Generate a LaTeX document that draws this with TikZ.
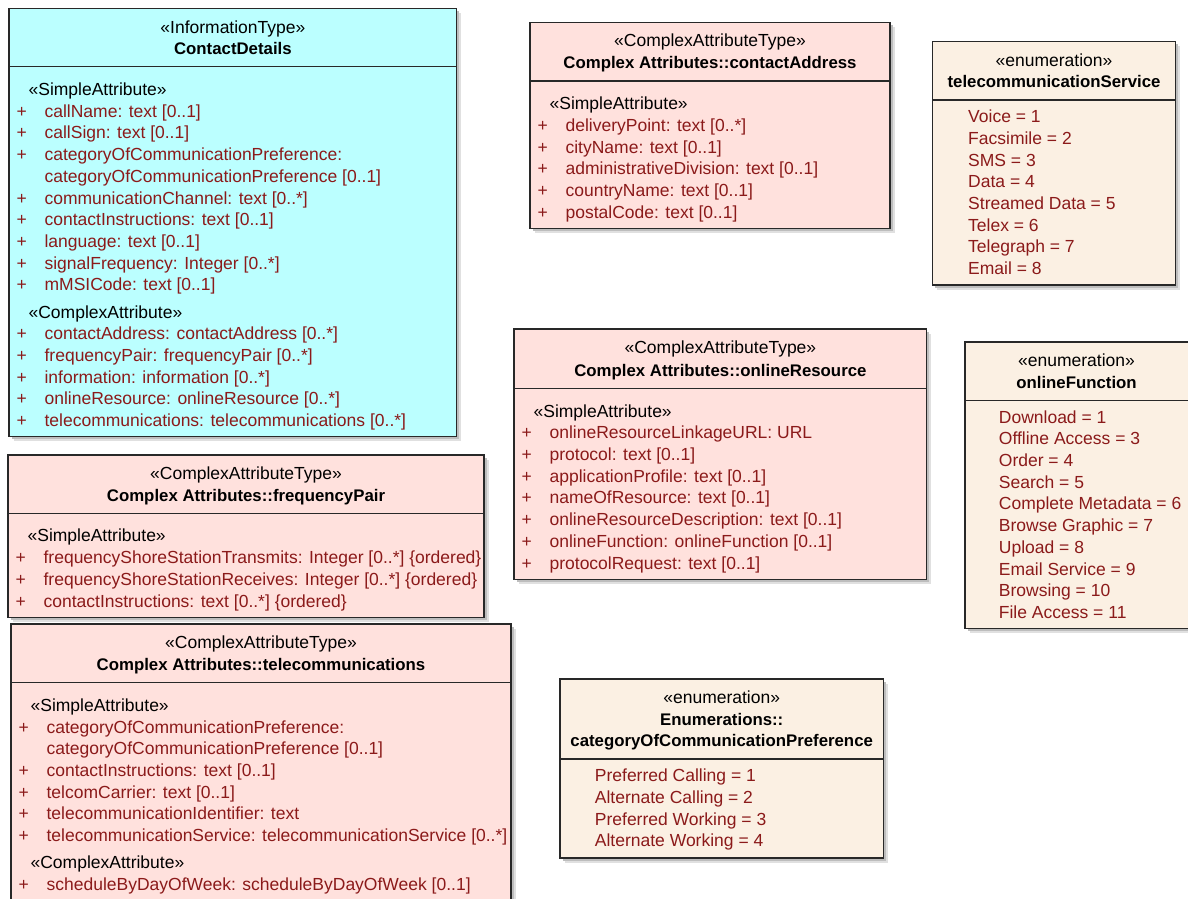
\documentclass[tikz,border=0pt]{standalone}
\usepackage{fontspec}
\setmainfont{Liberation Sans}
\usepackage{array}
\usepackage{tikz}
\usetikzlibrary{positioning}

\definecolor{infocyan}{RGB}{187,255,255}
\definecolor{typepink}{RGB}{255,225,221}
\definecolor{enumbeige}{RGB}{251,240,227}
\definecolor{attrred}{RGB}{139,26,26}
\definecolor{edgegray}{RGB}{40,40,40}

\newcommand{\attrfont}{\fontsize{17.5}{21.7}\selectfont}
\newcommand{\namefont}{\fontsize{16.8}{21.7}\selectfont\bfseries}
\newcommand{\stereo}[1]{\multicolumn{2}{@{\hspace{12pt}}l@{}}{\color{black}«#1»}}

\begin{document}
\begin{tikzpicture}[x=1pt,y=-1pt]%
    \clip (0,0) rectangle (1188,899); %%
    \tikzstyle{boxshade}=[fill=black!12]; %%
    \tikzstyle{boxshadein}=[fill=black!26]; %%
    \tikzstyle{boxedge}=[draw=edgegray,line width=1.2pt]; %%
    \tikzstyle{stereotype}=[anchor=base,inner sep=0pt,font=\attrfont]; %%
    \tikzstyle{classname}=[anchor=base,inner sep=0pt,font=\namefont]; %%
    \tikzstyle{attrlist}=[anchor=base west,inner sep=0pt,font=\attrfont,text=attrred]; %%
    \fill[white] (0,0) rectangle (1188,899); %%

    % ContactDetails
    \fill[boxshade] (13.5,12.8) rectangle (461.2,441.2); %%
    \fill[boxshadein] (11.5,10.8) rectangle (459.2,439.2); %%
    \draw[boxedge,fill=infocyan] (9,8.3) rectangle (456.7,436.7); %%
    \draw[boxedge] (9,66.7) -- (456.7,66.7); %%
    \node[stereotype] (cdkind) at (232.9,33.3) {«InformationType»}; %%
    \node[classname] (cdname) at (232.9,55) {ContactDetails}; %%
    \node[attrlist] (cdattrs) at (16.4,95.5) {\begin{tabular}[t]{@{}p{28pt}@{}l@{}}
        \stereo{SimpleAttribute}\\
        + & callName: text [0..1]\\
        + & callSign: text [0..1]\\
        + & categoryOfCommunicationPreference:\\
          & categoryOfCommunicationPreference [0..1]\\
        + & communicationChannel: text [0..*]\\
        + & contactInstructions: text [0..1]\\
        + & language: text [0..1]\\
        + & signalFrequency: Integer [0..*]\\
        + & mMSICode: text [0..1]\\[5.5pt]
        \stereo{ComplexAttribute}\\
        + & contactAddress: contactAddress [0..*]\\
        + & frequencyPair: frequencyPair [0..*]\\
        + & information: information [0..*]\\
        + & onlineResource: onlineResource [0..*]\\
        + & telecommunications: telecommunications [0..*]
    \end{tabular}}; %%

    % frequencyPair
    \fill[boxshade] (12.5,459.5) rectangle (488.5,621.8); %%
    \fill[boxshadein] (10.5,457.5) rectangle (486.5,619.8); %%
    \draw[boxedge,fill=typepink] (8,455) rectangle (484,617.3); %%
    \draw[boxedge] (8,513.3) -- (484,513.3); %%
    \node[stereotype] (fpkind) at (246,479.5) {«ComplexAttributeType»}; %%
    \node[classname] (fpname) at (246,501.5) {Complex Attributes::frequencyPair}; %%
    \node[attrlist] (fpattrs) at (15.4,541.9) {\begin{tabular}[t]{@{}p{28pt}@{}l@{}}
        \stereo{SimpleAttribute}\\
        + & frequencyShoreStationTransmits: Integer [0..*] \{ordered\}\\
        + & frequencyShoreStationReceives: Integer [0..*] \{ordered\}\\
        + & contactInstructions: text [0..*] \{ordered\}
    \end{tabular}}; %%

    % telecommunications
    \fill[boxshade] (15.5,628.5) rectangle (515.5,915); %%
    \fill[boxshadein] (13.5,626.5) rectangle (513.5,915); %%
    \draw[boxedge,fill=typepink] (11,624) rectangle (511,910); %%
    \draw[boxedge] (11,682.7) -- (511,682.7); %%
    \node[stereotype] (tckind) at (261,648.5) {«ComplexAttributeType»}; %%
    \node[classname] (tcname) at (261,670.4) {Complex Attributes::telecommunications}; %%
    \node[attrlist] (tcattrs) at (18.4,711.3) {\begin{tabular}[t]{@{}p{28pt}@{}l@{}}
        \stereo{SimpleAttribute}\\
        + & categoryOfCommunicationPreference:\\
          & categoryOfCommunicationPreference [0..1]\\
        + & contactInstructions: text [0..1]\\
        + & telcomCarrier: text [0..1]\\
        + & telecommunicationIdentifier: text\\
        + & telecommunicationService: telecommunicationService [0..*]\\[5.5pt]
        \stereo{ComplexAttribute}\\
        + & scheduleByDayOfWeek: scheduleByDayOfWeek [0..1]
    \end{tabular}}; %%

    % contactAddress
    \fill[boxshade] (534.5,26.8) rectangle (894.5,232.8); %%
    \fill[boxshadein] (532.5,24.8) rectangle (892.5,230.8); %%
    \draw[boxedge,fill=typepink] (530,22.3) rectangle (890,228.3); %%
    \draw[boxedge] (530,81) -- (890,81); %%
    \node[stereotype] (cakind) at (710,46.8) {«ComplexAttributeType»}; %%
    \node[classname] (caname) at (710,68.8) {Complex Attributes::contactAddress}; %%
    \node[attrlist] (caattrs) at (537.4,109.6) {\begin{tabular}[t]{@{}p{28pt}@{}l@{}}
        \stereo{SimpleAttribute}\\
        + & deliveryPoint: text [0..*]\\
        + & cityName: text [0..1]\\
        + & administrativeDivision: text [0..1]\\
        + & countryName: text [0..1]\\
        + & postalCode: text [0..1]
    \end{tabular}}; %%

    % onlineResource
    \fill[boxshade] (518.5,333.5) rectangle (931.2,583.8); %%
    \fill[boxshadein] (516.5,331.5) rectangle (929.2,581.8); %%
    \draw[boxedge,fill=typepink] (514,329) rectangle (926.7,579.3); %%
    \draw[boxedge] (514,388.5) -- (926.7,388.5); %%
    \node[stereotype] (orkind) at (720.4,353.5) {«ComplexAttributeType»}; %%
    \node[classname] (orname) at (720.4,376.5) {Complex Attributes::onlineResource}; %%
    \node[attrlist] (orattrs) at (521.4,417.1) {\begin{tabular}[t]{@{}p{28pt}@{}l@{}}
        \stereo{SimpleAttribute}\\
        + & onlineResourceLinkageURL: URL\\
        + & protocol: text [0..1]\\
        + & applicationProfile: text [0..1]\\
        + & nameOfResource: text [0..1]\\
        + & onlineResourceDescription: text [0..1]\\
        + & onlineFunction: onlineFunction [0..1]\\
        + & protocolRequest: text [0..1]
    \end{tabular}}; %%

    % telecommunicationService
    \fill[boxshade] (936.8,46.2) rectangle (1180.2,289.5); %%
    \fill[boxshadein] (934.8,44.2) rectangle (1178.2,287.5); %%
    \draw[boxedge,fill=enumbeige] (932.3,41.7) rectangle (1175.7,285); %%
    \draw[boxedge] (932.3,100) -- (1175.7,100); %%
    \node[stereotype] (tskind) at (1054,66.2) {«enumeration»}; %%
    \node[classname] (tsname) at (1054,88) {telecommunicationService}; %%
    \node[attrlist] (tsitems) at (968,122.6) {\begin{tabular}[t]{@{}l@{}}
        Voice = 1\\ Facsimile = 2\\ SMS = 3\\ Data = 4\\
        Streamed Data = 5\\ Telex = 6\\ Telegraph = 7\\ Email = 8
    \end{tabular}}; %%

    % onlineFunction
    \fill[boxshade] (969.5,346.5) rectangle (1204,633.2); %%
    \fill[boxshadein] (967.5,344.5) rectangle (1202,631.2); %%
    \draw[boxedge,fill=enumbeige] (965,342) rectangle (1200,628.7); %%
    \draw[boxedge] (965,400.5) -- (1200,400.5); %%
    \node[stereotype] (ofkind) at (1076.5,366.5) {«enumeration»}; %%
    \node[classname] (ofname) at (1076.5,388.5) {onlineFunction}; %%
    \node[attrlist] (ofitems) at (998.7,423.1) {\begin{tabular}[t]{@{}l@{}}
        Download = 1\\ Offline Access = 3\\ Order = 4\\ Search = 5\\
        Complete Metadata = 6\\ Browse Graphic = 7\\ Upload = 8\\
        Email Service = 9\\ Browsing = 10\\ File Access = 11
    \end{tabular}}; %%

    % categoryOfCommunicationPreference
    \fill[boxshade] (564.5,683.5) rectangle (887.8,862.5); %%
    \fill[boxshadein] (562.5,681.5) rectangle (885.8,860.5); %%
    \draw[boxedge,fill=enumbeige] (560,679) rectangle (883.3,858); %%
    \draw[boxedge] (560,759) -- (883.3,759); %%
    \node[stereotype] (eckind) at (721.7,703.5) {«enumeration»}; %%
    \node[classname] (ecpkg) at (721.7,725.2) {Enumerations::}; %%
    \node[classname] (ecname) at (721.7,746.9) {categoryOfCommunicationPreference}; %%
    \node[attrlist] (ecitems) at (594.7,781.6) {\begin{tabular}[t]{@{}l@{}}
        Preferred Calling = 1\\ Alternate Calling = 2\\
        Preferred Working = 3\\ Alternate Working = 4
    \end{tabular}}; %%
\end{tikzpicture}
\end{document}
